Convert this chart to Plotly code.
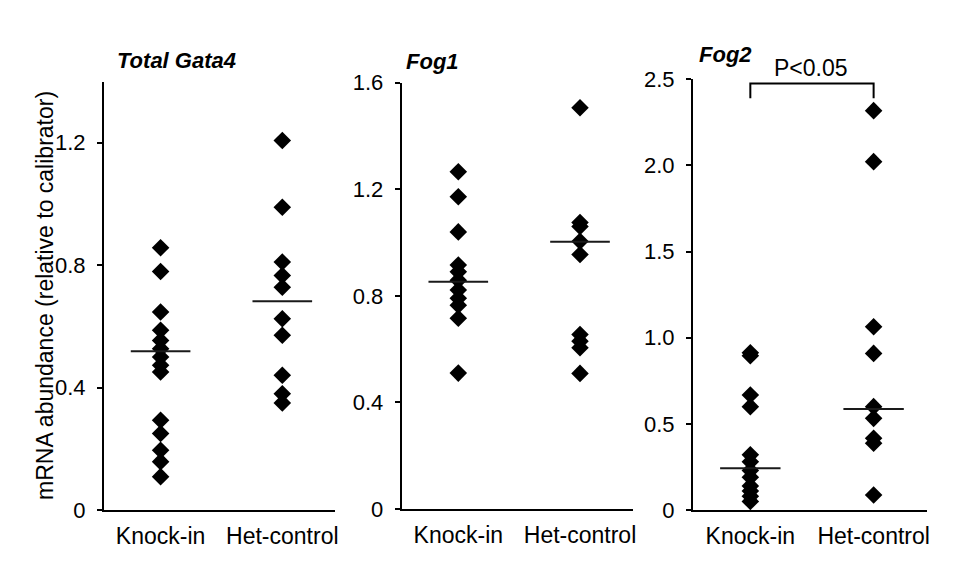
import plotly.graph_objects as go

# ---------------- data ----------------
categories = ["Knock-in", "Het-control"]

gata4_knockin = [0.857, 0.779, 0.647, 0.587, 0.554, 0.527, 0.500, 0.473, 0.451,
                 0.293, 0.250, 0.195, 0.158, 0.109]
gata4_het = [1.207, 0.989, 0.810, 0.766, 0.728, 0.625, 0.571, 0.440, 0.380, 0.350]
gata4_median = [0.519, 0.682]

fog1_knockin = [1.266, 1.172, 1.040, 0.916, 0.890, 0.859, 0.822, 0.791, 0.765,
                0.716, 0.510]
fog1_het = [1.506, 1.075, 1.060, 1.005, 0.955, 0.655, 0.630, 0.605, 0.509]
fog1_median = [0.853, 1.003]

fog2_knockin = [0.913, 0.895, 0.668, 0.600, 0.320, 0.280, 0.230, 0.190, 0.140,
                0.110, 0.080, 0.050]
fog2_het = [2.318, 2.022, 1.064, 0.909, 0.600, 0.532, 0.416, 0.387, 0.087]
fog2_median = [0.242, 0.586]

panel_titles = ["Total Gata4", "Fog1", "Fog2"]
y_title = "mRNA abundance (relative to calibrator)"
significance_label = "P<0.05"

gata4_ticks = [0, 0.4, 0.8, 1.2]
gata4_ticktext = ["0", "0.4", "0.8", "1.2"]
fog1_ticks = [0, 0.4, 0.8, 1.2, 1.6]
fog1_ticktext = ["0", "0.4", "0.8", "1.2", "1.6"]
fog2_ticks = [0, 0.5, 1.0, 1.5, 2.0, 2.5]
fog2_ticktext = ["0", "0.5", "1.0", "1.5", "2.0", "2.5"]

# ---------------- layout helpers ----------------
W, H = 955, 574
FONT = "Liberation Sans, Arial, Helvetica, sans-serif"


def px_x(p):
    return p / W


def px_y(p):
    return 1 - p / H


panels = [
    dict(ki=gata4_knockin, het=gata4_het, med=gata4_median, yr=[0, 1.4],
         tv=gata4_ticks, tt=gata4_ticktext, xd=[104, 335], yd=[510, 81.5]),
    dict(ki=fog1_knockin, het=fog1_het, med=fog1_median, yr=[0, 1.6],
         tv=fog1_ticks, tt=fog1_ticktext, xd=[401.7, 632.7], yd=[509, 82.7]),
    dict(ki=fog2_knockin, het=fog2_het, med=fog2_median, yr=[0, 2.5],
         tv=fog2_ticks, tt=fog2_ticktext, xd=[693, 927], yd=[510, 79.3]),
]

fig = go.Figure()
shapes = []
layout = dict(
    width=W, height=H,
    margin=dict(l=0, r=0, t=0, b=0),
    paper_bgcolor="white", plot_bgcolor="white",
    showlegend=False,
    font=dict(family=FONT, size=22, color="black"),
)

XR = [-0.465, 1.433]
for i, p in enumerate(panels, start=1):
    xa = "x" if i == 1 else f"x{i}"
    ya = "y" if i == 1 else f"y{i}"
    xs = [categories[0]] * len(p["ki"]) + [categories[1]] * len(p["het"])
    ys = p["ki"] + p["het"]
    fig.add_trace(go.Scatter(
        x=xs, y=ys, mode="markers", xaxis=xa, yaxis=ya,
        marker=dict(symbol="diamond", size=13.5, color="black",
                    line=dict(width=0)),
        cliponaxis=False, hoverinfo="x+y",
    ))
    for j, m in enumerate(p["med"]):
        shapes.append(dict(type="line", xref=xa, yref=ya,
                           x0=j - 0.245, x1=j + 0.245, y0=m, y1=m,
                           line=dict(color="#1a1a1a", width=2), layer="above"))
    layout[f"xaxis{'' if i == 1 else i}"] = dict(
        domain=[px_x(p["xd"][0]), px_x(p["xd"][1])],
        anchor=ya, type="category", categoryorder="array",
        categoryarray=categories, range=XR,
        showline=True, linecolor="black", linewidth=2,
        ticks="", showgrid=False, zeroline=False,
        tickfont=dict(family=FONT, size=23, color="black"),
        ticklabelstandoff=4, automargin=False,
    )
    layout[f"yaxis{'' if i == 1 else i}"] = dict(
        domain=[px_y(p["yd"][0]), px_y(p["yd"][1])],
        anchor=xa, range=p["yr"],
        tickmode="array", tickvals=p["tv"], ticktext=p["tt"],
        showline=True, linecolor="black", linewidth=2,
        ticks="outside", ticklen=5, tickwidth=1.5, tickcolor="black",
        showgrid=False, zeroline=False,
        tickfont=dict(family=FONT, size=22, color="black"),
        ticklabelstandoff=7, automargin=False,
    )

# significance bracket on Fog2 panel
shapes.append(dict(type="path", xref="x3", yref="y3",
                   path="M 0,2.39 L 0,2.476 L 1,2.476 L 1,2.39",
                   line=dict(color="black", width=2)))


def ann(text, x, y, size, angle=0):
    return dict(text=text, x=px_x(x), y=px_y(y), xref="paper", yref="paper",
                xanchor="center", yanchor="middle", showarrow=False,
                textangle=angle, font=dict(family=FONT, size=size, color="black"))


annotations = [
    ann(f"<b><i>{panel_titles[0]}</i></b>", 176.5, 60, 22),
    ann(f"<b><i>{panel_titles[1]}</i></b>", 432, 61, 22),
    ann(f"<b><i>{panel_titles[2]}</i></b>", 725, 54, 22),
    ann(significance_label.replace("<", "&lt;"), 810.5, 68, 23),
    ann(y_title, 45, 296, 23, -90),
]

layout["shapes"] = shapes
layout["annotations"] = annotations
fig.update_layout(**layout)

fig.write_html("out.html",
               config={"displayModeBar": False},
               post_script="document.body.style.margin='0';"
                           "document.body.style.overflow='hidden';")
